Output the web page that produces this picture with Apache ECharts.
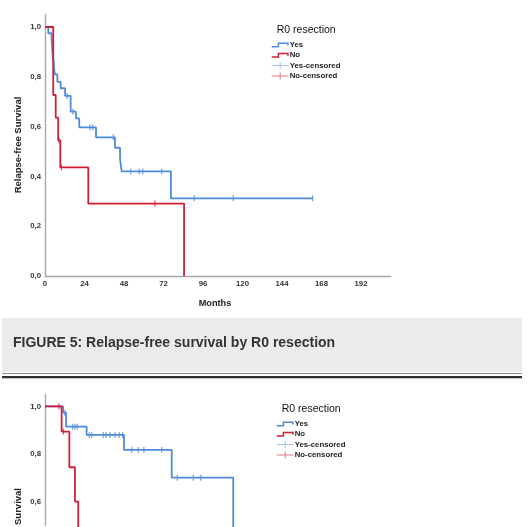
<!DOCTYPE html>
<html><head><meta charset="utf-8">
<script src="https://cdn.jsdelivr.net/npm/echarts@6/dist/echarts.min.js"></script>
<style>html,body{margin:0;padding:0;background:#fff}#c{width:529px;height:527px}</style>
</head><body><div id="c"></div>
<script>
// ---------- data ----------
const groups = ['Yes', 'No'];
const xTicks = [0, 24, 48, 72, 96, 120, 144, 168, 192];
const yTicks = [0, 0.2, 0.4, 0.6, 0.8, 1.0];

// Figure 5 (relapse-free survival)
const f5YesTime = [0, 2, 4, 5, 6, 7.5, 9.5, 12.2, 15.6, 18.8, 20.8, 31, 42.5, 45.6, 46.6, 76.5, 162.6];
const f5YesSurv = [1, 0.975, 0.948, 0.86, 0.81, 0.78, 0.754, 0.723, 0.66, 0.633, 0.597, 0.557, 0.515, 0.468, 0.42, 0.312, 0.312];
const f5YesCensTime = [5.5, 13.5, 17, 27.3, 29, 41.5, 52.1, 57.3, 59.4, 70.9, 90.7, 114.4, 162.6];
const f5YesCensSurv = [0.86, 0.723, 0.66, 0.597, 0.597, 0.557, 0.42, 0.42, 0.42, 0.42, 0.312, 0.312, 0.312];
const f5NoTime = [0, 5, 6.5, 8, 9.3, 26.3, 84.5];
const f5NoSurv = [1, 0.727, 0.636, 0.545, 0.436, 0.291, 0];
const f5NoCensTime = [8.5, 10, 66.8];
const f5NoCensSurv = [0.545, 0.436, 0.291];

// Figure 6 (top part only visible)
const f6YesTime = [0, 11, 12.8, 25.3, 48, 77, 114.4];
const f6YesSurv = [1, 0.974, 0.915, 0.88, 0.817, 0.70, 0.35];
const f6YesCensTime = [12, 16.8, 18.2, 19.6, 26.9, 28.4, 35.4, 37.1, 39.5, 42.5, 45.1, 47.2, 52.7, 56.7, 60.1, 70.9, 80.4, 90.1, 94.6];
const f6YesCensSurv = [0.974, 0.915, 0.915, 0.915, 0.88, 0.88, 0.88, 0.88, 0.88, 0.88, 0.88, 0.88, 0.817, 0.817, 0.817, 0.817, 0.70, 0.70, 0.70];
const f6NoTime = [0, 10.1, 14.8, 18.2, 20.2];
const f6NoSurv = [1, 0.894, 0.744, 0.599, 0.45];
const f6NoCensTime = [8.5, 11.2];
const f6NoCensSurv = [1, 0.894];

// ---------- styling ----------
const FONT = '"Liberation Sans", Arial, sans-serif';
const BLUE = '#4f8bdb';
const RED = '#d31f35';
const BLUE_C = '#8db6ea';
const RED_C = '#e4566a';
const zip = (a, b) => a.map((v, i) => [v, b[i]]);

const stepIcon = 'path://M0,4.5L6,4.5L6,1L17,1L17,4L15.5,4L15.5,2.5L7.5,2.5L7.5,6L0,6ZM0,0M17,7';
const crossIcon = 'path://M0,3L8,3L8,0L9,0L9,3L17,3L17,4L9,4L9,7L8,7L8,4L0,4Z';
const tickSym = 'path://M0,0L1,0L1,1L0,1Z';

function axisLabel(fmt) {
  return { fontSize: 7.8, fontWeight: 'bold', color: '#333', fontFamily: FONT, margin: 4, formatter: fmt };
}
const xFmt = v => xTicks.indexOf(v) >= 0 ? String(v) : '';
const yFmt = v => yTicks.some(t => Math.abs(t - v) < 1e-6) ? v.toFixed(1).replace('.', ',') : '';

function xAxis(gi, visible) {
  return { type: 'value', gridIndex: gi, min: 0, max: 210, interval: 24,
    axisLine: { show: visible, lineStyle: { color: '#a8a8a8', width: 1.4 } },
    axisTick: { show: false }, splitLine: { show: false },
    axisLabel: Object.assign(axisLabel(xFmt), { show: visible }) };
}
function yAxis(gi, min, interval) {
  return { type: 'value', gridIndex: gi, min, max: 1.05, interval,
    axisLine: { show: true, lineStyle: { color: '#a8a8a8', width: 1.4 } },
    axisTick: { show: false }, splitLine: { show: false }, axisLabel: axisLabel(yFmt) };
}
function stepSeries(name, gi, data, color) {
  return { type: 'line', name, xAxisIndex: gi, yAxisIndex: gi, step: 'end', data, clip: false,
    showSymbol: false, symbol: 'none', color, lineStyle: { color, width: 1.8 }, animation: false, z: name === 'No' ? 4 : 3 };
}
function censSeries(name, gi, data, color) {
  return { type: 'scatter', name, xAxisIndex: gi, yAxisIndex: gi, data, symbol: tickSym,
    symbolSize: [1.2, 6], itemStyle: { color }, animation: false, z: 5 };
}
function legend(left, top) {
  return { orient: 'vertical', left, top, padding: 0, itemGap: 0, itemWidth: 17, itemHeight: 7,
    symbolKeepAspect: false, selectedMode: false, itemStyle: { borderWidth: 0 },
    textStyle: { fontSize: 7.8, fontWeight: 'bold', color: '#222', fontFamily: FONT, lineHeight: 10.3, padding: [0, 0, 0, -4] },
    data: [
      { name: 'Yes', icon: stepIcon, itemStyle: { color: BLUE, borderWidth: 0 } },
      { name: 'No', icon: stepIcon, itemStyle: { color: RED, borderWidth: 0 } },
      { name: 'Yes-censored', icon: crossIcon, itemStyle: { color: BLUE_C, borderWidth: 0 } },
      { name: 'No-censored', icon: crossIcon, itemStyle: { color: RED_C, borderWidth: 0 } }
    ] };
}
function txt(text, x, y, size, weight, extra) {
  return Object.assign({ type: 'text', x, y, silent: true,
    style: { text, fontSize: size, fontWeight: weight, fontFamily: FONT, fill: '#222', align: 'center', verticalAlign: 'middle' } }, extra || {});
}

const chart = echarts.init(document.getElementById('c'), null, { renderer: 'canvas' });
chart.setOption({
  animation: false,
  backgroundColor: '#fff',
  grid: [
    { left: 45, top: 14.55, width: 345.6, height: 261.45 },
    { left: 45, top: 394.6, width: 345.6, height: 130.6 }
  ],
  xAxis: [xAxis(0, true), xAxis(1, false)],
  yAxis: [yAxis(0, 0, 0.2), yAxis(1, 0.5, 0.1)],
  legend: [legend(271.7, 39.85), legend(276.7, 418.85)],
  series: [
    stepSeries(groups[0], 0, zip(f5YesTime, f5YesSurv), BLUE),
    stepSeries(groups[1], 0, zip(f5NoTime, f5NoSurv), RED),
    censSeries('Yes-censored', 0, zip(f5YesCensTime, f5YesCensSurv), BLUE),
    censSeries('No-censored', 0, zip(f5NoCensTime, f5NoCensSurv), RED),
    stepSeries(groups[0], 1, zip(f6YesTime, f6YesSurv), BLUE),
    stepSeries(groups[1], 1, zip(f6NoTime, f6NoSurv), RED),
    censSeries('Yes-censored', 1, zip(f6YesCensTime, f6YesCensSurv), BLUE),
    censSeries('No-censored', 1, zip(f6NoCensTime, f6NoCensSurv), RED)
  ],
  graphic: [
    { type: 'rect', shape: { x: 2, y: 318, width: 520, height: 54 }, style: { fill: '#ebebeb' }, silent: true },
    { type: 'rect', shape: { x: 2, y: 373, width: 520, height: 1 }, style: { fill: '#8a8a8a' }, silent: true },
    { type: 'rect', shape: { x: 2, y: 376, width: 520, height: 2.2 }, style: { fill: '#2e2e2e' }, silent: true },
    { type: 'text', x: 13, y: 343, silent: true, style: { text: 'FIGURE 5: Relapse-free survival by R0 resection', fontSize: 14, fontWeight: 'bold', fontFamily: FONT, fill: '#333', align: 'left', verticalAlign: 'middle' } },
    txt('Relapse-free Survival', 18, 145, 9.5, 'bold', { rotation: Math.PI / 2 }),
    txt('Survival', 18, 506.5, 9.5, 'bold', { rotation: Math.PI / 2 }),
    txt('Months', 215, 303, 9.2, 'bold'),
    { type: 'text', x: 276.7, y: 30, silent: true, style: { text: 'R0 resection', fontSize: 10.5, fontWeight: 'normal', fontFamily: FONT, fill: '#111', align: 'left', verticalAlign: 'middle' } },
    { type: 'text', x: 281.7, y: 409, silent: true, style: { text: 'R0 resection', fontSize: 10.5, fontWeight: 'normal', fontFamily: FONT, fill: '#111', align: 'left', verticalAlign: 'middle' } }
  ]
});
</script></body></html>
